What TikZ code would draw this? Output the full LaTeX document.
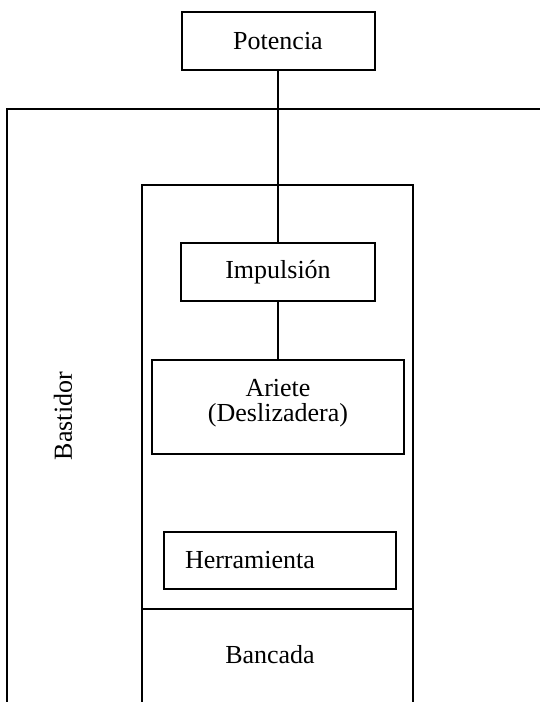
\documentclass[tikz,border=0pt]{standalone}
\usepackage{fontspec}
\setmainfont{Liberation Serif}
\usepackage{tikz}
\usetikzlibrary{positioning,calc}

\begin{document}
\begin{tikzpicture}[
    x=0.5pt, y=-0.5pt,
    line width=1pt,
    every node/.style={font=\fontsize{13}{16}\selectfont},
    blockbox/.style={draw, align=center, inner sep=0pt}
  ]
    \useasboundingbox (0,0) rectangle (540,702);

    % frame (Bastidor) and the bed block
    \draw (7,702) -- (7,109) -- (540,109);
    \draw (142,702) -- (142,185) -- (413,185) -- (413,702);
    \draw (142,609) -- (413,609);

    \node[blockbox, minimum width=96.5pt, minimum height=29pt] (pot) at (278,41) {Potencia};
    \node[blockbox, minimum width=97pt, minimum height=29pt] (imp) at (278,272) {Impulsión};
    \node[blockbox, minimum width=126pt, minimum height=47pt] (ariete) at (278,407) {
      Ariete\\[-3.5pt]
      (Deslizadera)\\[-9pt]
      \mbox{}
    };
    \node[blockbox, align=left, text width=95pt, inner xsep=10.5pt,
          minimum height=28.5pt] (herr) at (280,560.5) {Herramienta};

    \node[rotate=90] (bastidor) at (63,416) {Bastidor};
    \node (bancada) at (270,655) {Bancada};

    \draw (pot.south) -- (imp.north);
    \draw (imp.south) -- (ariete.north);
  \end{tikzpicture}
\end{document}
